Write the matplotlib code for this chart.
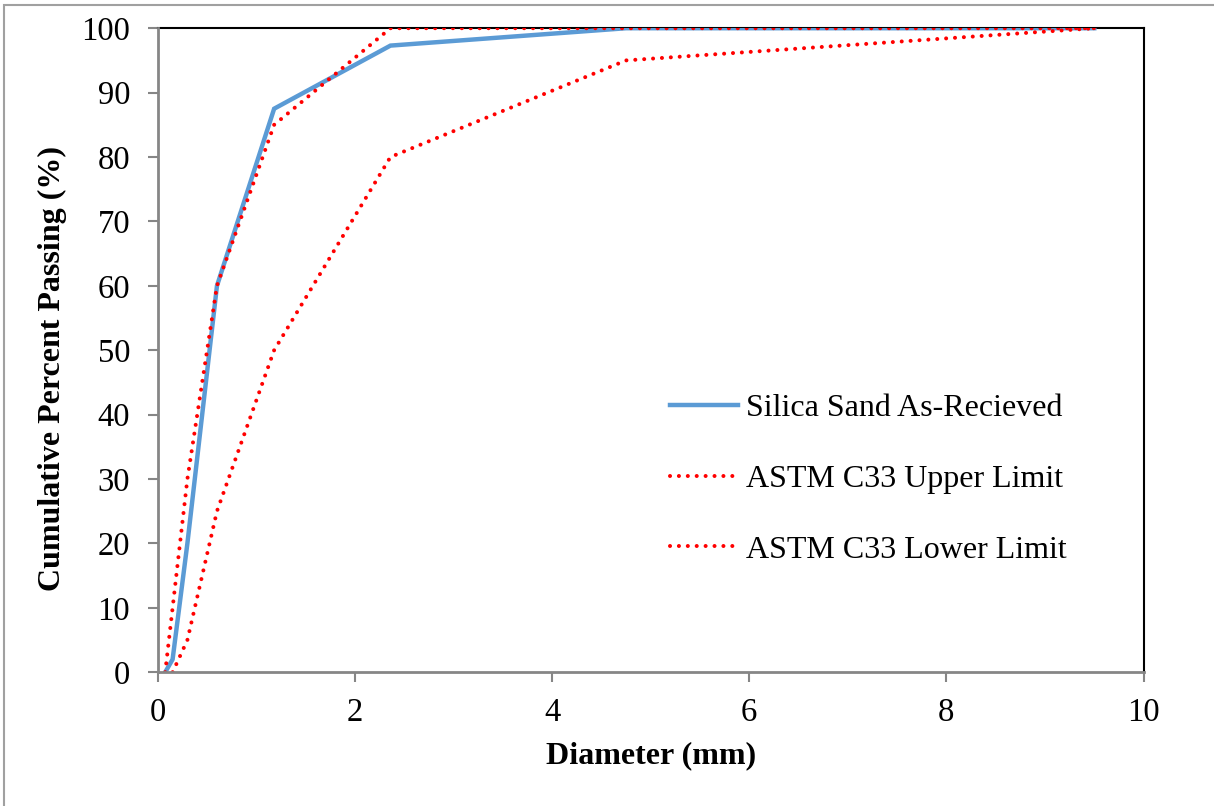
import matplotlib.pyplot as plt
from matplotlib.patches import Rectangle

plt.rcParams['font.family'] = ['Liberation Serif', 'DejaVu Serif']

# sieve sizes (mm) and cumulative percent passing
sand_d = [0.075, 0.15, 0.3, 0.6, 1.18, 2.36, 4.75, 9.5]
sand_pass = [0, 2, 20, 60, 87.5, 97.3, 100, 100]

upper_d = [0.075, 0.15, 0.3, 0.6, 1.18, 2.36, 4.75, 9.5]
upper_pass = [0, 10, 30, 60, 85, 100, 100, 100]

lower_d = [0.15, 0.3, 0.6, 1.18, 2.36, 4.75, 9.5]
lower_pass = [0, 5, 25, 50, 80, 95, 100]

fig = plt.figure(figsize=(12.14, 8.06), dpi=100)
ax = fig.add_axes([0.130, 0.166, 0.812, 0.799])

dots = (0, (0.01, 2.2))
ax.plot(sand_d, sand_pass, color='#5B9BD5', lw=3.2, label='Silica Sand As-Recieved',
        solid_joinstyle='miter', zorder=3)
ax.plot(upper_d, upper_pass, color='#FF0000', lw=2.9, ls=dots, dash_capstyle='round',
        label='ASTM C33 Upper Limit', zorder=4)
ax.plot(lower_d, lower_pass, color='#FF0000', lw=2.9, ls=dots, dash_capstyle='round',
        label='ASTM C33 Lower Limit', zorder=4)

ax.set_xlim(0, 10)
ax.set_ylim(0, 100)
ax.set_xticks(range(0, 11, 2))
ax.set_yticks(range(0, 101, 10))

for s in ['left', 'bottom']:
    ax.spines[s].set_color('#868686')
    ax.spines[s].set_linewidth(2)
for s in ['top', 'right']:
    ax.spines[s].set_color('black')
    ax.spines[s].set_linewidth(1.5)
ax.spines['left'].set_zorder(5)
ax.spines['bottom'].set_zorder(5)

ax.tick_params(direction='out', length=7, width=1.5, color='#868686', labelsize=23.5)
ax.tick_params(axis='y', pad=13)
ax.tick_params(axis='x', pad=11)

ax.set_xlabel('Diameter (mm)', fontsize=23, fontweight='bold', labelpad=10)
ax.set_ylabel('Cumulative Percent Passing (%)', fontsize=23, fontweight='bold',
              labelpad=10, y=0.472)

leg = ax.legend(loc='center left', bbox_to_anchor=(0.490, 0.300), frameon=False,
                fontsize=23, handlelength=2.15, handletextpad=0.25, labelspacing=1.3)

# thin outer frame of the chart area
fig.patches.append(Rectangle((4 / 1214, -0.1), 1.2, 1 - 5 / 806 + 0.1,
                             transform=fig.transFigure, fill=False,
                             edgecolor='#A0A0A0', lw=1.5))

fig.savefig('out.png', dpi=100)
